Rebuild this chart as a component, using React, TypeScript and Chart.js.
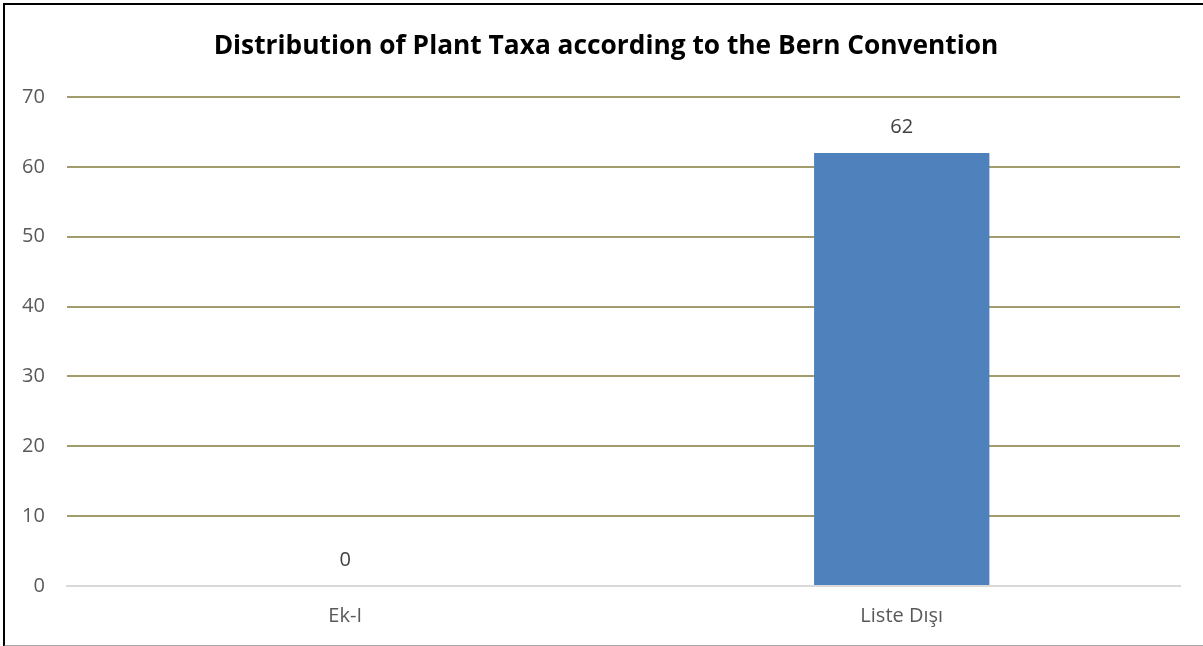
import React, { useEffect, useRef } from "react";
import { Chart, registerables } from "chart.js";

Chart.register(...registerables);

const chartTitle = "Distribution of Plant Taxa according to the Bern Convention";
const categories = ["Ek-I", "Liste Dışı"];
const taxaCounts = [0, 62];
const yTicks = [0, 10, 20, 30, 40, 50, 60, 70];

const FONT = "'Open Sans', 'Liberation Sans', sans-serif";

// Writes each bar's value just above its top edge
const valueLabels = {
  id: "valueLabels",
  afterDatasetsDraw(chart: any) {
    const { ctx } = chart;
    const meta = chart.getDatasetMeta(0);
    ctx.save();
    ctx.font = `20px ${FONT}`;
    ctx.fillStyle = "#404040";
    ctx.textAlign = "center";
    ctx.textBaseline = "middle";
    meta.data.forEach((bar: any, i: number) => {
      const v = chart.data.datasets[0].data[i];
      ctx.fillText(String(v), bar.x, bar.y - 26);
    });
    ctx.restore();
  },
};

export default function App() {
  const ref = useRef<HTMLCanvasElement | null>(null);

  useEffect(() => {
    document.body.style.margin = "0";
    const chart = new Chart(ref.current as HTMLCanvasElement, {
      type: "bar",
      data: {
        labels: categories,
        datasets: [
          {
            data: taxaCounts,
            backgroundColor: "#4f81bd",
            borderWidth: 0,
            barPercentage: 0.315,
            categoryPercentage: 1,
          },
        ],
      },
      options: {
        animation: false,
        responsive: false,
        layout: { padding: { top: 97, right: 23, bottom: 0, left: 0 } },
        plugins: {
          legend: { display: false },
          tooltip: { enabled: false },
          title: { display: false },
        },
        scales: {
          x: {
            grid: { display: false, drawTicks: false },
            border: { display: true, color: "#d9d9d9", width: 2 },
            ticks: {
              color: "#595959",
              font: { family: FONT, size: 20 },
              padding: 18,
            },
          },
          y: {
            min: 0,
            max: 70,
            afterBuildTicks(axis: any) {
              axis.ticks = yTicks.map((v) => ({ value: v }));
            },
            grid: {
              drawTicks: false,
              color: (c: any) => (c.tick && c.tick.value === 0 ? "rgba(0,0,0,0)" : "#a29b6b"),
              lineWidth: 2,
            },
            border: { display: false },
            ticks: {
              color: "#595959",
              font: { family: FONT, size: 20 },
              padding: 22,
            },
          },
        },
      },
      plugins: [valueLabels],
    });
    return () => chart.destroy();
  }, []);

  return (
    <div style={{ position: "relative", width: 1203, height: 646, overflow: "hidden", background: "#fff" }}>
      <canvas ref={ref} width={1203} height={646} style={{ display: "block" }} />
      <div
        style={{
          position: "absolute",
          left: 0,
          top: 29,
          width: 1212,
          textAlign: "center",
          fontFamily: FONT,
          fontWeight: 700,
          fontSize: 26.3,
          lineHeight: "30px",
          color: "#000",
          whiteSpace: "nowrap",
        }}
      >
        {chartTitle}
      </div>
      <div
        style={{
          position: "absolute",
          left: 3,
          top: 3,
          width: 1200,
          height: 640,
          borderTop: "2px solid #000",
          borderLeft: "2px solid #000",
          borderBottom: "2px solid #a6a6a6",
          pointerEvents: "none",
        }}
      />
    </div>
  );
}
